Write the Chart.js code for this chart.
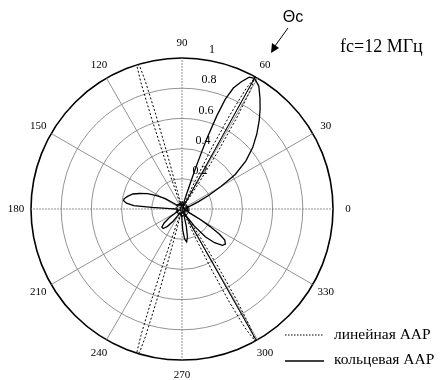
<!DOCTYPE html>
<html>
<head>
<meta charset="utf-8">
<script src="https://cdn.jsdelivr.net/npm/chart.js@4"></script>
<style>
  body { margin: 0; background: #fff; }
  #wrap { width: 442px; height: 380px; }
</style>
</head>
<body>
<div id="wrap"><canvas id="myChart"></canvas></div>
<script>
// angle labels (deg, counter-clockwise from the right) and radius ticks
const angleTicks = [0, 30, 60, 90, 120, 150, 180, 210, 240, 270, 300, 330]
const radialTicks = [0.2, 0.4, 0.6, 0.8, 1]

// линейная ААР (dotted)
const linearAngles = [0, 6, 12, 18, 25, 32, 40, 46, 50,
  56, 57, 58, 59, 60, 61, 62, 63, 64, 65, 66,
  72, 80, 86, 92, 98, 100,
  104, 104.5, 105, 105.5, 106, 106.5, 107, 107.5, 108, 108.5, 109, 109.5, 110,
  116, 125, 132, 140, 148, 160, 168, 180, 192, 200, 208, 220, 228, 235, 242,
  250, 250.5, 251, 251.5, 252, 252.5, 253, 253.5, 254, 254.5, 255, 255.5, 256,
  262, 268, 274, 280, 286, 290,
  294, 295, 296, 297, 298, 299, 300, 301, 302, 303, 304,
  310, 314, 320, 328, 335, 342, 348, 354]
const linearValues = [0.05, 0.01, 0.04, 0.01, 0.05, 0.01, 0.05, 0.01, 0.04,
  0.02, 0.2, 0.45, 0.7, 0.9, 1.0, 0.9, 0.7, 0.45, 0.2, 0.02,
  0.05, 0.01, 0.05, 0.01, 0.05, 0.01,
  0.02, 0.12, 0.38, 0.65, 0.88, 0.99, 1.0, 0.99, 0.88, 0.65, 0.38, 0.12, 0.02,
  0.05, 0.01, 0.05, 0.01, 0.05, 0.01, 0.05, 0.06, 0.01, 0.05, 0.01, 0.05, 0.01, 0.05, 0.01,
  0.02, 0.12, 0.38, 0.65, 0.88, 0.99, 1.0, 0.99, 0.88, 0.65, 0.38, 0.12, 0.02,
  0.05, 0.01, 0.05, 0.01, 0.05, 0.01,
  0.02, 0.2, 0.45, 0.7, 0.9, 1.0, 0.9, 0.7, 0.45, 0.2, 0.02,
  0.05, 0.01, 0.05, 0.01, 0.05, 0.01, 0.05, 0.01]

// кольцевая ААР (solid)
const ringAngles = [0, 10, 16, 20, 24, 27, 30, 33, 37, 41, 45, 49, 52, 55, 58, 61,
  63, 65, 67, 68.5, 69.5, 70.5, 71, 71.5, 72, 73, 75,
  85, 100, 120, 135, 142,
  145, 148, 152, 156, 160, 163, 167, 170, 172, 174, 176, 177, 178, 180,
  190, 200,
  210, 214, 218, 222, 226, 230, 234, 238, 245, 260,
  268, 272, 275, 278, 281, 284, 288, 296,
  302, 306, 310, 314, 318, 321, 324, 326, 328, 330, 333, 340, 350]
const ringValues = [0.03, 0.04, 0.03, 0.06, 0.12, 0.2, 0.3, 0.42, 0.53, 0.62, 0.7, 0.78, 0.84, 0.9, 0.96, 0.99,
  0.98, 0.93, 0.87, 0.78, 0.66, 0.5, 0.4, 0.3, 0.2, 0.1, 0.03,
  0.03, 0.04, 0.03, 0.04, 0.04,
  0.06, 0.13, 0.19, 0.25, 0.3, 0.34, 0.37, 0.39, 0.39, 0.37, 0.32, 0.2, 0.08, 0.03,
  0.03, 0.02,
  0.04, 0.1, 0.15, 0.18, 0.18, 0.15, 0.1, 0.05, 0.03, 0.03,
  0.05, 0.14, 0.2, 0.22, 0.19, 0.12, 0.04, 0.03,
  0.06, 0.14, 0.24, 0.31, 0.36, 0.37, 0.35, 0.3, 0.22, 0.14, 0.06, 0.03, 0.04]

// thin solid lines inside the main dotted lobes
const markAngles = [60.5, 61, 61.5, 299, 299.5, 300]
const markValues = [0, 1, 0, 0, 1, 0]

const step = 0.5
const count = 720
// radar runs clockwise from the top, so index i sits at 90 - i*step degrees
const labels = Array.from({length: count}, (_, i) => ((90 - i * step) % 360 + 360) % 360)
const indexOf = a => Math.round((((90 - a) % 360 + 360) % 360) / step) % count
const toSeries = (angles, values) => {
    const arr = new Array(count).fill(null)
    angles.forEach((a, k) => { arr[indexOf(a)] = values[k] })
    return arr
}

const serif = '"Liberation Serif", "Times New Roman", serif'

const extras = {
    id: 'extras',
    afterDraw(chart) {
        const {ctx} = chart
        const r = chart.scales.r
        ctx.save()
        ctx.fillStyle = '#000'
        ctx.textAlign = 'center'
        ctx.textBaseline = 'middle'
        ctx.font = '11px ' + serif
        angleTicks.forEach(a => {
            const p = r.getPointPositionForValue(indexOf(a), 1.1)
            ctx.fillText(String(a), p.x, p.y)
        })
        ctx.font = '12px ' + serif
        radialTicks.forEach(v => {
            const d = r.getDistanceFromCenterForValue(v)
            ctx.fillText(String(v), r.xCenter + 15 + d * 0.1, r.yCenter - d - 8)
        })

        // Θc marker and arrow
        ctx.font = '16px "Liberation Sans", Arial, sans-serif'
        ctx.fillText('Θc', 293, 18)
        ctx.strokeStyle = '#000'
        ctx.lineWidth = 1
        ctx.beginPath()
        ctx.moveTo(288, 28)
        ctx.lineTo(275, 46)
        ctx.stroke()
        ctx.beginPath()
        ctx.moveTo(271, 53)
        ctx.lineTo(272, 43)
        ctx.lineTo(279, 48)
        ctx.closePath()
        ctx.fill()

        ctx.textAlign = 'left'
        ctx.font = '18px ' + serif
        ctx.fillText('fc=12 МГц', 340, 47)

        // legend
        ctx.font = '15.5px ' + serif
        ctx.setLineDash([1.5, 1.5])
        ctx.beginPath()
        ctx.moveTo(285, 335)
        ctx.lineTo(324, 335)
        ctx.stroke()
        ctx.setLineDash([])
        ctx.lineWidth = 1.3
        ctx.beginPath()
        ctx.moveTo(285, 361)
        ctx.lineTo(324, 361)
        ctx.stroke()
        ctx.fillText('линейная ААР', 334, 335)
        ctx.fillText('кольцевая ААР', 334, 360)
        ctx.restore()
    }
}

const createChart = () => {
    const ctx = document.getElementById('myChart')

    new Chart(ctx, {
        type: 'radar',
        data: {
            labels: labels,
            datasets: [{
                label: 'линейная ААР',
                data: toSeries(linearAngles, linearValues),
                borderColor: '#000',
                borderWidth: 1,
                borderDash: [2, 2],
                fill: false,
                spanGaps: true,
                pointRadius: 0
            }, {
                label: 'кольцевая ААР',
                data: toSeries(ringAngles, ringValues),
                borderColor: '#000',
                borderWidth: 1.3,
                fill: false,
                spanGaps: true,
                pointRadius: 0
            }, {
                label: 'Θc',
                data: toSeries(markAngles, markValues),
                borderColor: '#000',
                borderWidth: 0.8,
                fill: false,
                spanGaps: true,
                pointRadius: 0
            }]
        },
        options: {
            responsive: true,
            maintainAspectRatio: false,
            animation: false,
            layout: {
                padding: {left: 31, top: 58, right: 109, bottom: 20}
            },
            plugins: {
                legend: {display: false},
                tooltip: {enabled: false}
            },
            scales: {
                r: {
                    min: 0,
                    max: 1,
                    ticks: {display: false, stepSize: 0.2},
                    pointLabels: {display: false},
                    grid: {
                        circular: true,
                        color: c => c.tick && c.tick.value === 1 ? '#000' : '#777',
                        lineWidth: c => c.tick && c.tick.value === 1 ? 1.6 : 0.8
                    },
                    angleLines: {
                        color: '#777',
                        lineWidth: c => labels[c.index] % 30 === 0 ? 0.8 : 0,
                        borderDash: c => labels[c.index] % 90 === 0 ? [2, 1] : []
                    }
                }
            }
        },
        plugins: [extras]
    })
}

createChart()
</script>
</body>
</html>
